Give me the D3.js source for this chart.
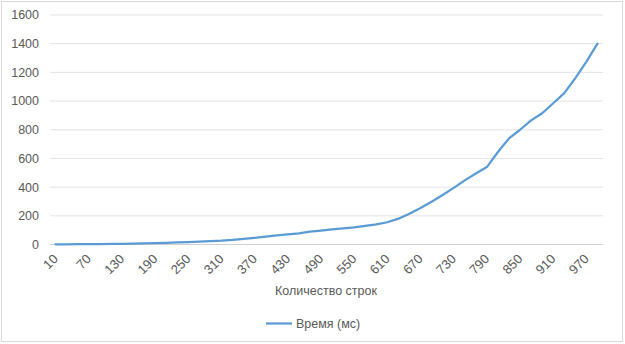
<!DOCTYPE html>
<html>
<head>
    <meta charset="UTF-8">
    <title>Время выполнения</title>
    <style>
        body {
            margin: 0;
            overflow: hidden;
            background-color: #ffffff;
        }
        text {
            font-family: "Liberation Sans", Arial, sans-serif;
            fill: #595959;
        }
    </style>
    <script src="https://cdn.jsdelivr.net/npm/d3@7"></script>
</head>
<body>
    <script>
        // количество строк (шаг 20) и время в мс
        const rows = [10, 30, 50, 70, 90, 110, 130, 150, 170, 190,
            210, 230, 250, 270, 290, 310, 330, 350, 370, 390,
            410, 430, 450, 470, 490, 510, 530, 550, 570, 590,
            610, 630, 650, 670, 690, 710, 730, 750, 770, 790,
            810, 830, 850, 870, 890, 910, 930, 950, 970, 990];
        const timeMs = [1, 1, 2, 2, 3, 4, 5, 6, 8, 10,
            12, 14, 17, 20, 24, 27, 32, 40, 47, 55,
            63, 70, 78, 90, 97, 105, 113, 120, 130, 140,
            155, 180, 215, 255, 298, 345, 395, 447, 495, 540,
            645, 740, 800, 865, 915, 985, 1055, 1160, 1275, 1400];
        const yTicks = [0, 200, 400, 600, 800, 1000, 1200, 1400, 1600];
        const xLabels = [10, 70, 130, 190, 250, 310, 370, 430, 490, 550, 610, 670, 730, 790, 850, 910, 970];

        const width = 625;
        const height = 344;
        const margin = {top: 15, right: 22, bottom: 99.5, left: 50};

        const svg = d3.select('body')
            .append('svg')
            .attr('width', width)
            .attr('height', height);

        // рамка диаграммы
        svg.append('rect')
            .attr('x', 1.5).attr('y', 1.5)
            .attr('width', 621).attr('height', 340)
            .attr('fill', 'none')
            .attr('stroke', '#d9d9d9');

        const x = d3.scalePoint()
            .domain(rows)
            .range([margin.left, width - margin.right])
            .padding(0.5);

        const y = d3.scaleLinear()
            .domain([0, 1600])
            .range([height - margin.bottom, margin.top]);

        // сетка
        svg.append('g')
            .selectAll('line')
            .data(yTicks)
            .join('line')
            .attr('x1', margin.left)
            .attr('x2', width - margin.right)
            .attr('y1', d => y(d))
            .attr('y2', d => y(d))
            .attr('stroke', d => d === 0 ? '#d0d0d0' : '#e3e3e3')
            .attr('stroke-width', 1);

        // подписи оси Y
        svg.append('g')
            .selectAll('text')
            .data(yTicks)
            .join('text')
            .attr('x', 39)
            .attr('y', d => y(d))
            .attr('dy', '0.35em')
            .attr('text-anchor', 'end')
            .style('font-size', '12.5px')
            .text(d => d);

        // подписи оси X, повернуты
        svg.append('g')
            .selectAll('text')
            .data(xLabels)
            .join('text')
            .attr('transform', d => `translate(${x(d)}, ${height - margin.bottom + 12}) rotate(-45)`)
            .attr('text-anchor', 'end')
            .attr('dy', '0.35em')
            .style('font-size', '13px')
            .text(d => d);

        svg.append('text')
            .attr('x', 326)
            .attr('y', 295)
            .attr('text-anchor', 'middle')
            .style('font-size', '12.5px')
            .text('Количество строк');

        const line = d3.line()
            .x((d, i) => x(rows[i]))
            .y(d => y(d));

        svg.append('path')
            .datum(timeMs)
            .attr('d', line)
            .attr('fill', 'none')
            .attr('stroke', '#5b9bd5')
            .attr('stroke-width', 2.25)
            .attr('stroke-linejoin', 'round')
            .attr('stroke-linecap', 'round');

        // легенда
        svg.append('line')
            .attr('x1', 266).attr('x2', 292)
            .attr('y1', 323.5).attr('y2', 323.5)
            .attr('stroke', '#5b9bd5')
            .attr('stroke-width', 2.25);
        svg.append('text')
            .attr('x', 296)
            .attr('y', 323.5)
            .attr('dy', '0.35em')
            .style('font-size', '12.5px')
            .text('Время (мс)');
    </script>
</body>
</html>
